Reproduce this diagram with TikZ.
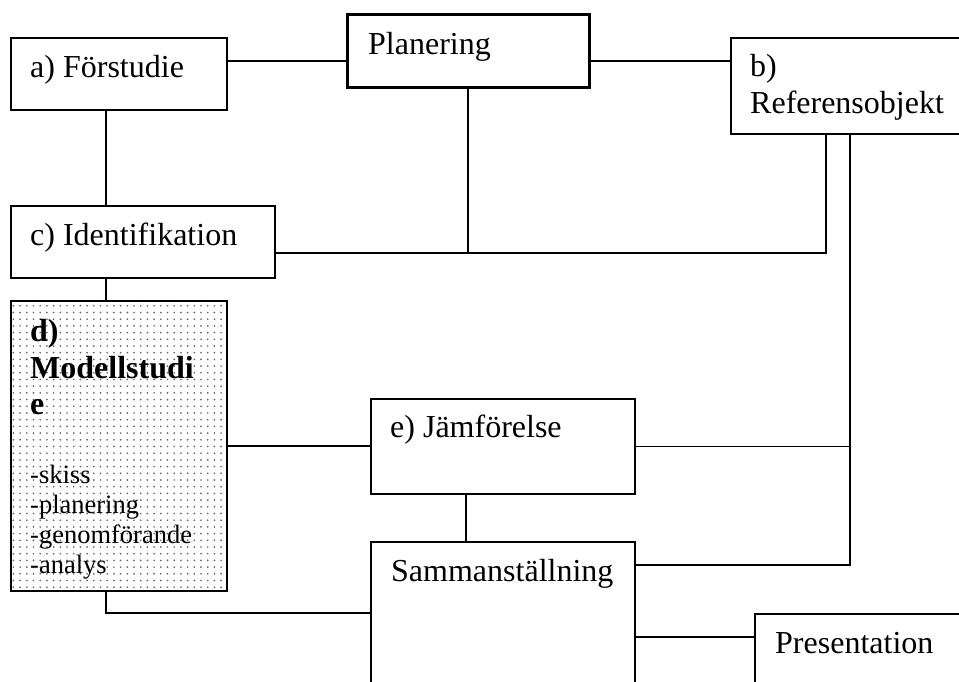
\documentclass[tikz,border=0pt]{standalone}
\usepackage{fontspec}
\setmainfont{Liberation Serif}
\usetikzlibrary{calc,patterns.meta}
\tikzset{
  box/.style={draw=black, line width=1.8pt, rectangle, anchor=north west, inner sep=0pt, fill=white},
  thickbox/.style={box, line width=2.6pt},
  lbl/.style={anchor=base west, inner sep=0pt, font=\fontsize{32}{37}\selectfont},
  lblb/.style={lbl, font=\fontsize{32}{37}\selectfont\bfseries},
  lbls/.style={anchor=base west, inner sep=0pt, font=\fontsize{26.5}{30}\selectfont},
  conn/.style={draw=black, line width=1.7pt},
  dotted box/.style={box, postaction={pattern={Dots[distance=6.7pt, radius=0.95pt]}, pattern color=black!60}}
}
\begin{document}
\begin{tikzpicture}[x=1pt, y=-1pt]
\useasboundingbox (0,0) rectangle (959,681);
\clip (0,0) rectangle (959,681);
\fill[white] (0,0) rectangle (959,681);
% boxes
\node[box, minimum width=216pt, minimum height=72pt] (a) at (10,37) {};
\node[thickbox, minimum width=242pt, minimum height=73pt] (plan) at (346,13) {};
\node[box, minimum width=260pt, minimum height=96pt] (b) at (730,37) {};
\node[box, minimum width=264pt, minimum height=72pt] (c) at (10,205) {};
\node[dotted box, minimum width=216pt, minimum height=290pt] (d) at (10,300) {};
\node[box, minimum width=264pt, minimum height=95pt] (e) at (370,398) {};
\node[box, minimum width=264pt, minimum height=200pt] (s) at (370,541) {};
\node[box, minimum width=260pt, minimum height=120pt] (p) at (754,613) {};
% labels
\node[lbl] (ta) at (30,77) {a) Förstudie};
\node[lbl] (tplan) at (368,54) {Planering};
\node[lbl] (tb1) at (750,76) {b)};
\node[lbl] (tb2) at (750,113) {Referensobjekt};
\node[lbl] (tc) at (30,245) {c) Identifikation};
\node[lblb] (td1) at (30,341) {d)};
\node[lblb] (td2) at (30,378) {Modellstudi};
\node[lblb] (td3) at (30,414) {e};
\node[lbls] (td4) at (30,483) {-skiss};
\node[lbls] (td5) at (30,513) {-planering};
\node[lbls] (td6) at (30,543) {-genomförande};
\node[lbls] (td7) at (30,573) {-analys};
\node[lbl] (te) at (390,437) {e) Jämförelse};
\node[lbl] (ts) at (391,581) {Sammanställning};
\node[lbl] (tp) at (775,653) {Presentation};
% junction coordinates
\coordinate (ja) at ($(a.north east)+(0,24)$);
\coordinate (ax) at ($(a.south west)+(96,0)$);
\coordinate (cy) at ($(c.north east)+(0,48)$);
\coordinate (cx) at ($(c.south west)+(96,0)$);
\coordinate (b1) at ($(b.south west)+(96,0)$);
\coordinate (b2) at ($(b.south west)+(120,0)$);
\coordinate (s1) at ($(s.north east)+(0,24)$);
\coordinate (s2) at ($(s.north east)+(0,96)$);
\coordinate (sw) at ($(s.north west)+(0,72)$);
\coordinate (dx) at ($(d.south west)+(96,0)$);
\coordinate (ex) at ($(e.south west)+(96,0)$);
% connectors
\draw[conn] (ja) -- (ja -| plan.west);
\draw[conn] (ja -| plan.east) -- (ja -| b.west);
\draw[conn] (ax) -- (ax |- c.north);
\draw[conn] (plan.south) -- (plan.south |- cy);
\draw[conn] (cy) -| (b1);
\draw[conn] (b2) |- (s1);
\draw[conn] (e.east) -- (e.east -| b2);
\draw[conn] (cx) -- (cx |- d.north);
\draw[conn] (d.east) -- (d.east -| e.west);
\draw[conn] (ex) -- (ex |- s.north);
\draw[conn] (dx) |- (sw);
\draw[conn] (s2) -- (s2 -| p.west);
\end{tikzpicture}
\end{document}
